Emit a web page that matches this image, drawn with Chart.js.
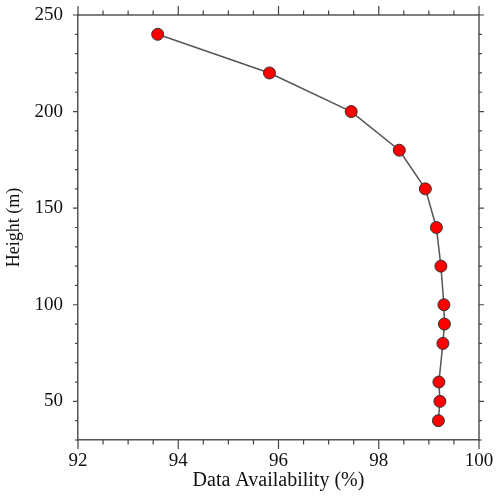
<!DOCTYPE html>
<html>
<head>
<meta charset="utf-8">
<script src="https://cdn.jsdelivr.net/npm/chart.js@4/dist/chart.umd.min.js"></script>
<style>
html,body{margin:0;padding:0;background:#fff;}
#wrap{width:500px;height:500px;}
</style>
</head>
<body>
<div id="wrap"><canvas id="c" width="500" height="500"></canvas></div>
<script>
const heights = [240, 220, 200, 180, 160, 140, 120, 100, 90, 80, 60, 50, 40];
const availability = [93.59, 95.82, 97.45, 98.41, 98.93, 99.15, 99.24, 99.30, 99.31, 99.28, 99.20, 99.22, 99.19];
const xMajorLabels = [92, 94, 96, 98, 100];
const yMajorLabels = [50, 100, 150, 200, 250];
const xTitle = 'Data Availability (%)';
const yTitle = 'Height (m)';

const FONT = '"Liberation Serif", "Times New Roman", serif';

const frameTicks = {
  id: 'frameTicks',
  beforeDatasetsDraw(chart) {
    const ctx = chart.ctx;
    const {left, right, top, bottom} = chart.chartArea;
    const x = chart.scales.x, y = chart.scales.y;
    ctx.save();
    ctx.strokeStyle = '#555';
    ctx.lineWidth = 1.5;
    ctx.beginPath();
    ctx.moveTo(left, top); ctx.lineTo(right, top); ctx.lineTo(right, bottom);
    ctx.stroke();
    ctx.strokeStyle = '#444';
    ctx.lineWidth = 1.2;
    ctx.beginPath();
    x.ticks.forEach(t => {
      const px = x.getPixelForValue(t.value);
      const len = xMajorLabels.includes(t.value) ? 9 : 4.5;
      ctx.moveTo(px, bottom); ctx.lineTo(px, bottom + len);
      ctx.moveTo(px, top); ctx.lineTo(px, top - len);
    });
    y.ticks.forEach(t => {
      const py = y.getPixelForValue(t.value);
      const len = yMajorLabels.includes(t.value) ? 5 : 3;
      ctx.moveTo(left, py); ctx.lineTo(left - len, py);
      ctx.moveTo(right, py); ctx.lineTo(right + len, py);
    });
    ctx.stroke();
    ctx.restore();
  }
};

const points = heights.map((h, i) => ({x: availability[i], y: h}));

new Chart(document.getElementById('c'), {
  type: 'scatter',
  data: {
    datasets: [{
      data: points,
      showLine: true,
      borderColor: '#555',
      borderWidth: 1.5,
      pointRadius: 6,
      pointHoverRadius: 6,
      pointBackgroundColor: '#ff0000',
      pointBorderColor: '#333',
      pointBorderWidth: 1
    }]
  },
  options: {
    responsive: false,
    animation: false,
    events: [],
    layout: {padding: {top: 15, right: 21, left: 0, bottom: 0}},
    plugins: {
      legend: {display: false},
      tooltip: {enabled: false}
    },
    scales: {
      x: {
        type: 'linear',
        min: 92, max: 100,
        grid: {display: true, drawOnChartArea: false, drawTicks: false},
        border: {display: true, color: '#555', width: 1.5},
        ticks: {
          stepSize: 0.5,
          autoSkip: false,
          maxRotation: 0,
          padding: 10,
          color: '#111',
          font: {family: FONT, size: 19},
          callback: v => xMajorLabels.includes(v) ? String(v) : ''
        },
        title: {
          display: true,
          text: xTitle,
          color: '#111',
          font: {family: FONT, size: 20},
          padding: {top: 7, bottom: 7}
        },
        afterFit: s => { s.height = 60; s.paddingLeft = 0; s.paddingRight = 0; }
      },
      y: {
        type: 'linear',
        min: 30, max: 250,
        grid: {display: true, drawOnChartArea: false, drawTicks: false},
        border: {display: true, color: '#555', width: 1.5},
        ticks: {
          stepSize: 10,
          autoSkip: false,
          padding: 15,
          color: '#111',
          font: {family: FONT, size: 19},
          callback: v => yMajorLabels.includes(v) ? String(v) : ''
        },
        title: {
          display: true,
          text: yTitle,
          color: '#111',
          font: {family: FONT, size: 18},
          padding: {top: 3, bottom: 3}
        },
        afterFit: s => { s.width = 78; s.paddingTop = 0; s.paddingBottom = 0; }
      }
    }
  },
  plugins: [frameTicks]
});
</script>
</body>
</html>
